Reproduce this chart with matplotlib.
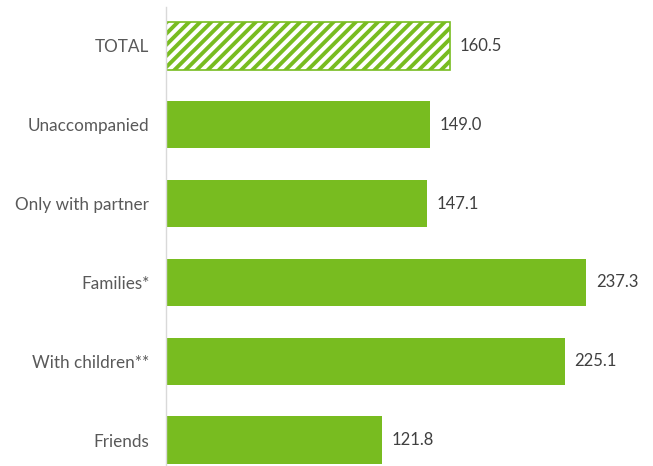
import matplotlib
matplotlib.use('Agg')
import matplotlib.pyplot as plt

# data
categories = ['TOTAL', 'Unaccompanied', 'Only with partner', 'Families*',
              'With children**', 'Friends']
values = [160.5, 149.0, 147.1, 237.3, 225.1, 121.8]
hatched = [True, False, False, False, False, False]

green = '#78BC20'
plt.rcParams['font.family'] = ['Lato', 'DejaVu Sans']
plt.rcParams['hatch.linewidth'] = 2.8
plt.rcParams['hatch.color'] = green

fig = plt.figure(figsize=(6.53, 4.66), dpi=100)
ax = fig.add_axes([166 / 653, 0, 1 - 166 / 653, 1 - 6.5 / 466])

ypos = list(range(len(categories)))
for y, v, h in zip(ypos, values, hatched):
    if h:
        ax.barh(y, v, height=0.6, color='white', edgecolor=green,
                hatch='///', linewidth=1.2)
    else:
        ax.barh(y, v, height=0.6, color=green, edgecolor='none')
    ax.text(v + 5.5, y, f'{v:.1f}', va='center', ha='left',
            fontsize=12, color='#404040')

ax.set_yticks(ypos)
ax.set_yticklabels(categories, fontsize=12.3, color='#595959')
ax.tick_params(axis='y', length=0, pad=12)
ax.set_xticks([])
ax.set_xlim(0, 275)
ax.set_ylim(5 + 26 / 79, -0.5)
for s in ['top', 'right', 'bottom']:
    ax.spines[s].set_visible(False)
ax.spines['left'].set_color('#D9D9D9')
ax.spines['left'].set_linewidth(1)

fig.savefig('out.png', dpi=100)
